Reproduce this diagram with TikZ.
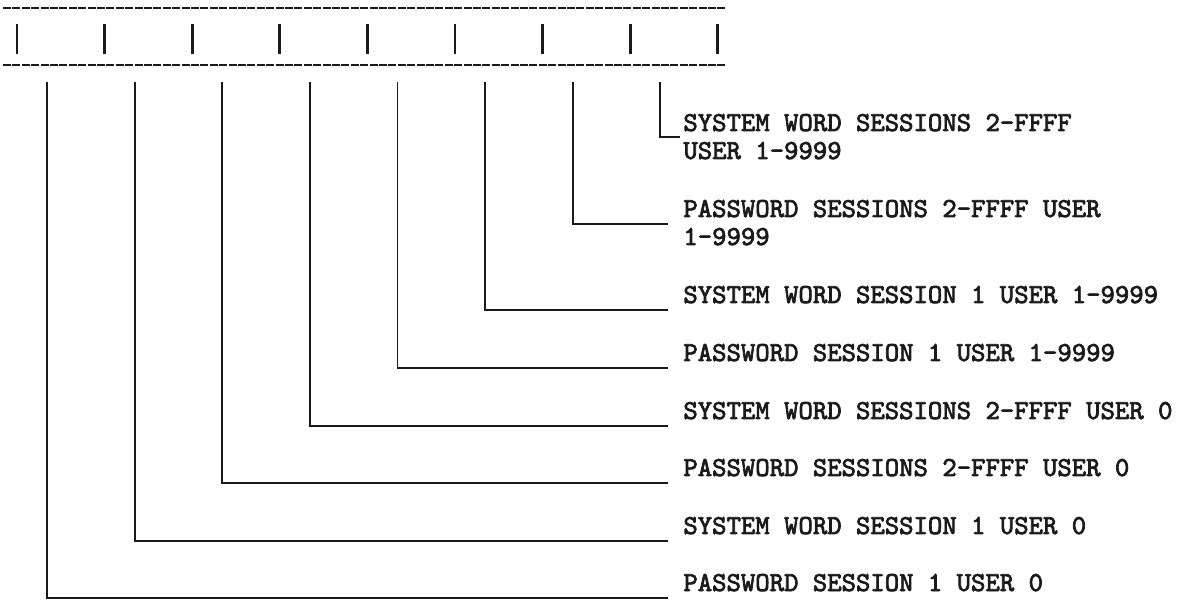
\documentclass[tikz,border=0pt]{standalone}
\usepackage{fontspec}
\newfontfamily\typerfont{lmmono10-regular.otf}[FakeBold=2.6]
\usepackage{xcolor}
\usepackage{tikz}
\usetikzlibrary{positioning}
\definecolor{typeink}{HTML}{1A1A1A}

\begin{document}
\begin{tikzpicture}[
    x=0.5pt, y=-0.5pt,
    bar/.style={line width=1.1pt, typeink, dash pattern=on 4pt off 0.7pt},
    tick/.style={line width=1.4pt, typeink},
    lead/.style={line width=0.9pt, typeink},
    lbl/.style={anchor=base west, inner sep=0pt, align=left, typeink,
        font=\typerfont\fontsize{13.7}{14}\selectfont}
]
    \useasboundingbox (0,0) rectangle (1185,604);

    % === field bar ===
    \coordinate (barnw) at (3,8);
    \coordinate (barne) at (725,8);
    \coordinate (barsw) at (3,65);
    \coordinate (barse) at (725,65);
    \draw[bar] (barnw) -- (barne);
    \draw[bar] (barsw) -- (barse);
    \draw[tick] (17,24) -- (17,54);
    \draw[tick] (104.6,24) -- (104.6,54);
    \draw[tick] (192.2,24) -- (192.2,54);
    \draw[tick] (279.8,24) -- (279.8,54);
    \draw[tick] (367.4,24) -- (367.4,54);
    \draw[tick] (455,24) -- (455,54);
    \draw[tick] (542.6,24) -- (542.6,54);
    \draw[tick] (630.2,24) -- (630.2,54);
    \draw[tick] (717.8,24) -- (717.8,54);

    % === drop points below the bar ===
    \coordinate (d0) at (47,82);
    \coordinate (d1) at (134.6,82);
    \coordinate (d2) at (222.2,82);
    \coordinate (d3) at (309.8,82);
    \coordinate (d4) at (397.4,82);
    \coordinate (d5) at (485,82);
    \coordinate (d6) at (572.6,82);
    \coordinate (d7) at (660.2,82);

    % === labels (two-line ones sit on their last line) ===
    \node[lbl] (sw7) at (683,159) {SYSTEM WORD SESSIONS 2-FFFF\\USER 1-9999};
    \node[lbl] (pw6) at (683,245) {PASSWORD SESSIONS 2-FFFF USER\\1-9999};
    \node[lbl] (sw5) at (683,303) {SYSTEM WORD SESSION 1 USER 1-9999};
    \node[lbl] (pw4) at (683,361) {PASSWORD SESSION 1 USER 1-9999};
    \node[lbl] (sw3) at (683,419) {SYSTEM WORD SESSIONS 2-FFFF USER 0};
    \node[lbl] (pw2) at (683,476) {PASSWORD SESSIONS 2-FFFF USER 0};
    \node[lbl] (sw1) at (683,534) {SYSTEM WORD SESSION 1 USER 0};
    \node[lbl] (pw0) at (683,591) {PASSWORD SESSION 1 USER 0};

    % --- leaders ---
    \draw[lead] (d7) |- ([shift={(-3,-22)}]sw7.base west);
    \draw[lead] (d6) |- ([shift={(-15,-21)}]pw6.base west);
    \draw[lead] (d5) |- ([shift={(-15,7)}]sw5.base west);
    \draw[lead] (d4) |- ([shift={(-15,7)}]pw4.base west);
    \draw[lead] (d3) |- ([shift={(-15,7)}]sw3.base west);
    \draw[lead] (d2) |- ([shift={(-15,7)}]pw2.base west);
    \draw[lead] (d1) |- ([shift={(-15,7)}]sw1.base west);
    \draw[lead] (d0) |- ([shift={(-15,7)}]pw0.base west);
\end{tikzpicture}
\end{document}
